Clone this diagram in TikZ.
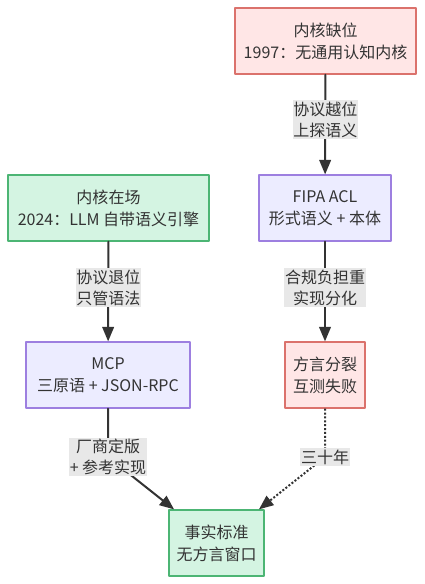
\documentclass[tikz,border=0pt]{standalone}
\usepackage{fontspec}
\setmainfont{Noto Sans CJK SC}
\usetikzlibrary{arrows}
\definecolor{redfill}{HTML}{FFE6E6}
\definecolor{reddraw}{HTML}{DB726C}
\definecolor{bluefill}{HTML}{ECECFF}
\definecolor{bluedraw}{HTML}{9D7FE0}
\definecolor{greenfill}{HTML}{D4F4E2}
\definecolor{greendraw}{HTML}{4CB574}
\definecolor{lblbg}{HTML}{E8E8E8}
\definecolor{txt}{HTML}{333333}
\begin{document}
\begin{tikzpicture}[line cap=round,line join=round,>=triangle 45,x=0.75pt,y=-0.75pt,
  box/.style={draw,line width=1.1pt,align=center,text=txt,inner sep=0pt,
    minimum height=49.5pt,font=\fontsize{12}{16.5}\selectfont},
  redbox/.style={box,fill=redfill,draw=reddraw},
  bluebox/.style={box,fill=bluefill,draw=bluedraw},
  greenbox/.style={box,fill=greenfill,draw=greendraw},
  lbl/.style={fill=lblbg,text=txt,align=center,inner xsep=0.5pt,inner ysep=1pt,
    font=\fontsize{12}{15.75}\selectfont},
  edge/.style={draw=txt,line width=1.5pt,->}]
\useasboundingbox (0,0) rectangle (424,584);
\node[redbox,minimum width=135.75pt] (gap) at (325.5,41) {内核缺位\\1997：无通用认知内核};
\node[bluebox,minimum width=99pt] (fipa) at (325,208) {FIPA ACL\\形式语义 + 本体};
\node[redbox,minimum width=60pt] (split) at (325,375) {方言分裂\\互测失败};
\node[greenbox,minimum width=150.75pt] (llm) at (108.5,208) {内核在场\\2024：LLM 自带语义引擎};
\node[bluebox,minimum width=123pt] (mcp) at (108,375) {MCP\\三原语 + JSON-RPC};
\node[greenbox,minimum width=71.25pt] (std) at (216.5,543) {事实标准\\无方言窗口};
\coordinate (bendL) at (108,457);
\coordinate (bendR) at (325,457);
% right column
\draw[edge] (gap) -- node[lbl,pos=0.45] (l1) {协议越位\\上探语义} (fipa);
\draw[edge] (fipa) -- node[lbl,pos=0.46] (l2) {合规负担重\\实现分化} (split);
% left column
\draw[edge] (llm) -- node[lbl,pos=0.46] (l3) {协议退位\\只管语法} (mcp);
% into the standard
\draw[edge] (mcp) -- (bendL) node[lbl] (l4) {厂商定版\\+ 参考实现} -- (std);
\draw[edge,line cap=butt,dash pattern=on 1.5pt off 1.4pt] (split) -- (bendR) node[lbl] (l5) {三十年} -- (std);
\end{tikzpicture}
\end{document}
